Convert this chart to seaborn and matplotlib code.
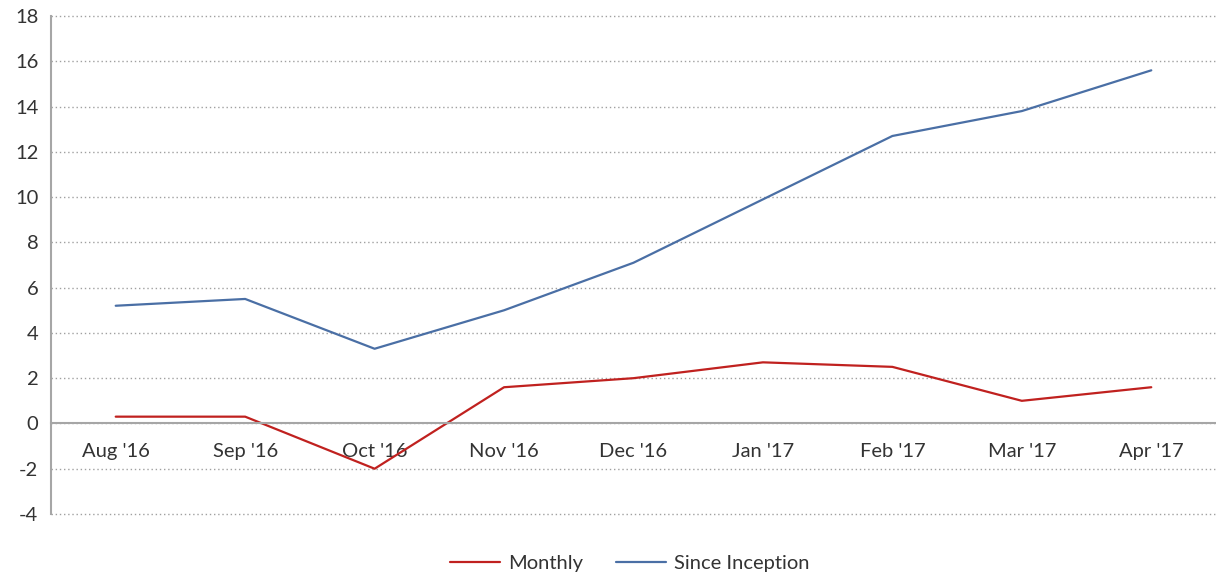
import matplotlib
matplotlib.use("Agg")
import matplotlib.pyplot as plt
import pandas as pd
import seaborn as sns

months = ["Aug '16", "Sep '16", "Oct '16", "Nov '16", "Dec '16",
          "Jan '17", "Feb '17", "Mar '17", "Apr '17"]
monthly = [0.3, 0.3, -2.0, 1.6, 2.0, 2.7, 2.5, 1.0, 1.6]
since_inception = [5.2, 5.5, 3.3, 5.0, 7.1, 9.9, 12.7, 13.8, 15.6]

series_names = ["Monthly", "Since Inception"]
colors = {"Monthly": "#C0211F", "Since Inception": "#4A6FA5"}

df = pd.DataFrame({
    "month": months * 2,
    "pos": list(range(len(months))) * 2,
    "value": monthly + since_inception,
    "series": [series_names[0]] * len(months) + [series_names[1]] * len(months),
})

sns.set_style("white")
plt.rcParams["font.family"] = ["Lato", "DejaVu Sans"]
plt.rcParams["axes.unicode_minus"] = False

fig = plt.figure(figsize=(12.16, 5.79), dpi=100)
ax = fig.add_axes([51 / 1216, 1 - 514 / 579, 1 - 51 / 1216, (514 - 16) / 579])

sns.lineplot(data=df, x="pos", y="value", hue="series", palette=colors,
             sort=False, linewidth=1.6, ax=ax, legend=False)

ax.set_xlim(-0.5, len(months) - 0.5)
ax.set_ylim(-4, 18)
ax.set_yticks(range(-4, 19, 2))
ax.set_xticks(range(len(months)))
ax.set_xticklabels(months)
ax.set_xlabel("")
ax.set_ylabel("")

ax.yaxis.grid(True, linestyle=(0, (1, 2)), color="#A0A0A0", linewidth=1)
for gl in ax.get_ygridlines():
    gl.set_clip_on(False)
ax.set_axisbelow(True)

for s in ["top", "right"]:
    ax.spines[s].set_visible(False)
ax.spines["bottom"].set_position(("data", 0))
ax.spines["bottom"].set_color("#A6A6A6")
ax.spines["bottom"].set_linewidth(1.5)
ax.spines["left"].set_color("#A6A6A6")
ax.spines["left"].set_linewidth(1.5)

ax.tick_params(axis="x", length=0, pad=14, labelsize=14.5, colors="#333333")
ax.tick_params(axis="y", length=0, pad=9, labelsize=14.5, colors="#333333")
ax.set_zorder(1)

handles = [plt.Line2D([], [], color=colors[n], linewidth=1.6) for n in series_names]
fig.legend(handles, series_names, loc="center", bbox_to_anchor=(0.518, 1 - 563 / 579),
           ncol=2, frameon=False, fontsize=14.5, handlelength=2.5,
           columnspacing=1.6, handletextpad=0.4, labelcolor="#333333")

fig.savefig("out.png", dpi=100)
